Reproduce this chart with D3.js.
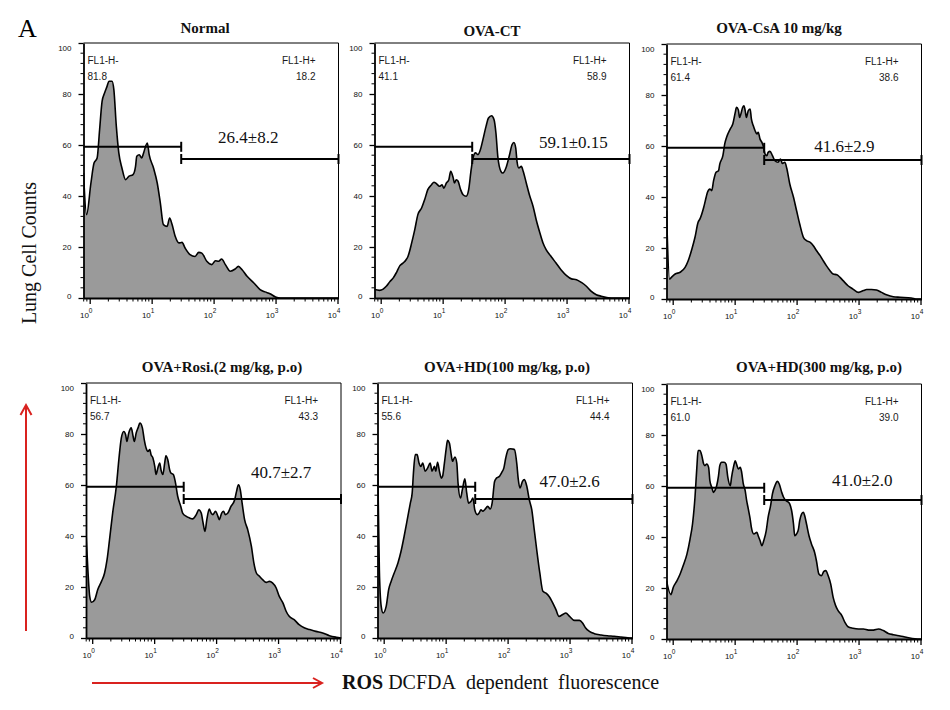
<!DOCTYPE html>
<html><head><meta charset="utf-8">
<script src="https://cdn.jsdelivr.net/npm/d3@7"></script>
<style>body{margin:0;background:#fff} svg{display:block}</style>
</head><body>
<svg id="chart" width="950" height="710"></svg>
<script>
// ---------------- DATA ----------------
const panelTitles = ["Normal", "OVA-CT", "OVA-CsA 10 mg/kg",
  "OVA+Rosi.(2 mg/kg, p.o)", "OVA+HD(100 mg/kg, p.o)", "OVA+HD(300 mg/kg, p.o)"];
const gateNegPct = ["81.8", "41.1", "61.4", "56.7", "55.6", "61.0"];
const gatePosPct = ["18.2", "58.9", "38.6", "43.3", "44.4", "39.0"];
const meanSdText = ["26.4±8.2", "59.1±0.15", "41.6±2.9", "40.7±2.7", "47.0±2.6", "41.0±2.0"];
const yTickValues = [0, 20, 40, 60, 80, 100];
const xTickExponents = [0, 1, 2, 3, 4];
const gateBoundary = 30;      // fluorescence channel separating FL1-H- / FL1-H+
const gateNegLevel = 59.3;    // count level where the "-" gate bar is drawn
const gatePosLevel = 54.5;    // count level where the "+" gate bar is drawn
// where the mean±SD text sits, in data units [log10 fluorescence, count]
const meanSdAt = [[2.56, 60.8], [3.11, 58.8], [2.77, 57.6], [3.05, 62.7], [3.0, 59.2], [3.06, 60.0]];

// histograms: [log10 DCFDA fluorescence, cell count]
const normalHist = [[-0.10,49],[-0.05,32.7],[0.02,45.1],[0.07,52.9],[0.12,54.9],[0.16,66],[0.20,77.1],[0.24,80.4],[0.28,83],[0.31,85],[0.36,85],[0.39,81.7],[0.43,67.3],[0.47,56.9],[0.52,51],[0.58,46.4],[0.63,47.7],[0.70,48.4],[0.74,51.6],[0.76,55.6],[0.80,56.2],[0.84,54.9],[0.87,56.9],[0.93,60.8],[0.96,56.2],[1.03,51],[1.09,45.1],[1.14,37.3],[1.19,28.8],[1.25,28.1],[1.29,31.4],[1.33,28.8],[1.38,24.2],[1.44,21.6],[1.49,21.8],[1.54,19.6],[1.62,17],[1.70,16.3],[1.76,17.9],[1.81,17.6],[1.89,14.4],[1.97,13.1],[2.03,14.6],[2.08,14.4],[2.13,15.3],[2.19,13.1],[2.27,10.5],[2.35,11.4],[2.40,12.4],[2.46,11.1],[2.54,8.5],[2.65,5.9],[2.75,3.3],[2.83,2.4],[2.91,1.7],[3.00,0.4],[3.08,0],[4.02,0]];
const ovaCtHist = [[-0.10,3.3],[-0.02,3.0],[0.04,3.5],[0.09,4.6],[0.15,6.5],[0.20,7.8],[0.25,9.8],[0.31,12.7],[0.36,13.7],[0.41,15.0],[0.44,16.3],[0.50,21.6],[0.55,26.8],[0.60,32.7],[0.66,35.3],[0.71,38.6],[0.76,42.5],[0.82,44.4],[0.86,45.4],[0.90,44.8],[0.95,43.8],[0.99,44.4],[1.02,43.1],[1.06,45.1],[1.10,46.4],[1.13,49.7],[1.17,47.1],[1.19,45.1],[1.22,46.4],[1.25,45.8],[1.29,42.5],[1.33,40.5],[1.38,39.9],[1.42,42.5],[1.46,50.3],[1.49,54.9],[1.53,56.9],[1.57,56.2],[1.61,58.2],[1.65,62.1],[1.70,67.3],[1.74,70.6],[1.79,71.5],[1.83,69.9],[1.86,64.7],[1.89,55.6],[1.94,49.7],[1.97,49.0],[2.03,51.6],[2.08,56.2],[2.12,60.1],[2.15,61.0],[2.18,58.8],[2.20,53.6],[2.23,51.0],[2.27,51.6],[2.30,49.7],[2.35,45.1],[2.40,40.5],[2.46,35.9],[2.51,30.7],[2.57,25.5],[2.62,21.6],[2.67,19.0],[2.75,16.3],[2.83,13.7],[2.91,11.1],[3.00,8.8],[3.08,7.5],[3.16,7.2],[3.24,6.1],[3.32,4.6],[3.40,2.6],[3.48,1.3],[3.56,0.7],[3.67,0.1],[3.77,0],[4.02,0]];
const ovaCsaHist = [[-0.10,34.6],[-0.05,7.8],[-0.02,8.5],[0.04,9.8],[0.12,10.5],[0.20,12.4],[0.25,15.0],[0.31,19.6],[0.36,24.2],[0.41,30.1],[0.44,31.4],[0.50,35.9],[0.54,39.9],[0.56,41.8],[0.60,43.1],[0.63,42.5],[0.66,46.4],[0.70,49.7],[0.74,50.3],[0.76,52.9],[0.81,56.2],[0.84,60.8],[0.87,63.4],[0.93,66.7],[0.97,68.6],[1.01,73.2],[1.03,75.2],[1.06,74.1],[1.08,71.2],[1.10,72.5],[1.13,75.2],[1.15,75.8],[1.17,73.9],[1.19,71.2],[1.22,73.9],[1.25,74.5],[1.27,70.6],[1.30,68.0],[1.33,66.0],[1.36,64.7],[1.38,65.4],[1.41,62.7],[1.44,61.4],[1.46,60.1],[1.49,56.9],[1.52,56.2],[1.54,57.5],[1.57,57.9],[1.61,56.2],[1.65,54.2],[1.70,53.6],[1.74,54.9],[1.77,53.2],[1.81,53.6],[1.84,51.4],[1.89,45.1],[1.95,39.9],[2.00,34.6],[2.05,29.4],[2.11,24.2],[2.16,22.9],[2.22,22.2],[2.27,20.9],[2.32,19.0],[2.38,17.0],[2.43,15.0],[2.48,13.1],[2.54,11.1],[2.59,9.8],[2.65,9.5],[2.70,8.5],[2.75,7.2],[2.83,5.2],[2.91,3.9],[3.00,2.6],[3.08,3.3],[3.13,3.7],[3.21,3.7],[3.29,3.5],[3.37,2.6],[3.45,1.7],[3.56,0.9],[3.67,0.7],[3.85,0.4],[3.95,0],[4.02,0]];
const rosiHist = [[-0.10,41.2],[-0.07,26.8],[-0.04,16.3],[-0.01,14.0],[0.04,15.0],[0.09,19.0],[0.15,22.2],[0.20,25.5],[0.24,30.7],[0.28,38.6],[0.33,49.0],[0.39,59.5],[0.43,69.9],[0.47,78.4],[0.51,81.0],[0.54,79.7],[0.56,77.1],[0.59,80.4],[0.63,82.4],[0.66,79.1],[0.68,77.1],[0.71,80.4],[0.74,82.4],[0.77,84.3],[0.81,82.4],[0.84,77.8],[0.87,74.5],[0.90,73.2],[0.93,73.9],[0.95,71.9],[0.98,70.6],[1.01,67.3],[1.03,64.1],[1.06,66.7],[1.09,68.6],[1.11,66.0],[1.14,64.1],[1.17,68.6],[1.19,71.5],[1.22,69.9],[1.25,66.0],[1.27,64.7],[1.31,64.1],[1.34,61.4],[1.38,55.6],[1.43,51.6],[1.46,49.0],[1.52,47.7],[1.57,47.1],[1.62,46.7],[1.68,48.4],[1.72,50.3],[1.76,49.0],[1.79,45.1],[1.82,41.8],[1.85,46.4],[1.89,50.6],[1.92,49.0],[1.95,48.4],[1.99,49.7],[2.03,47.7],[2.05,46.4],[2.09,49.0],[2.12,49.7],[2.15,48.4],[2.19,49.0],[2.24,51.6],[2.30,54.2],[2.33,57.5],[2.36,60.1],[2.39,58.2],[2.42,52.9],[2.46,46.4],[2.51,42.5],[2.57,35.9],[2.61,29.4],[2.65,25.5],[2.70,24.2],[2.75,22.9],[2.81,21.8],[2.86,22.2],[2.91,21.6],[2.97,19.6],[3.02,16.3],[3.08,13.7],[3.13,10.5],[3.18,8.5],[3.26,7.2],[3.34,5.2],[3.43,3.9],[3.51,3.3],[3.61,2.6],[3.72,2.0],[3.83,0.9],[3.94,0.3],[4.02,0]];
const hd100Hist = [[-0.10,72.5],[-0.07,26.8],[-0.04,12.4],[-0.01,9.8],[0.04,12.4],[0.08,19.0],[0.12,22.2],[0.17,25.5],[0.23,29.4],[0.28,34.0],[0.33,39.9],[0.39,47.7],[0.43,52.9],[0.46,56.9],[0.48,64.7],[0.51,71.9],[0.54,71.9],[0.57,68.6],[0.60,67.3],[0.63,68.6],[0.67,65.4],[0.71,66.7],[0.75,68.6],[0.78,65.4],[0.82,67.3],[0.84,65.4],[0.87,68.9],[0.90,65.4],[0.93,62.7],[0.95,63.4],[0.98,68.6],[1.01,74.5],[1.03,77.5],[1.06,76.5],[1.09,71.9],[1.11,69.3],[1.15,71.0],[1.18,68.6],[1.20,60.8],[1.24,54.9],[1.27,58.2],[1.31,62.4],[1.34,56.9],[1.37,52.9],[1.41,53.6],[1.44,54.9],[1.47,50.3],[1.51,48.4],[1.54,49.0],[1.57,50.3],[1.60,49.7],[1.63,50.3],[1.68,51.6],[1.72,50.6],[1.75,52.9],[1.79,61.4],[1.82,62.7],[1.87,63.4],[1.90,64.7],[1.94,66.7],[1.97,70.6],[2.01,73.9],[2.04,74.2],[2.08,74.1],[2.11,73.9],[2.15,68.0],[2.17,62.7],[2.20,58.8],[2.24,61.4],[2.27,62.1],[2.31,59.5],[2.35,54.2],[2.39,50.3],[2.43,42.5],[2.47,34.6],[2.52,25.5],[2.57,18.3],[2.62,17.6],[2.67,16.3],[2.73,13.7],[2.78,11.1],[2.83,8.5],[2.89,9.2],[2.94,9.8],[3.00,8.5],[3.08,6.9],[3.16,6.9],[3.21,5.9],[3.26,3.9],[3.32,2.6],[3.40,1.7],[3.51,1.2],[3.61,0.9],[3.72,0.7],[3.83,0.4],[3.94,0.1],[4.02,0]];
const hd300Hist = [[-0.10,22.9],[-0.03,17.4],[0.01,20.3],[0.07,22.9],[0.12,25.5],[0.17,28.8],[0.23,33.3],[0.28,39.2],[0.32,45.1],[0.36,55.6],[0.39,67.3],[0.41,73.9],[0.44,73.9],[0.47,71.9],[0.50,68.6],[0.52,68.0],[0.55,68.6],[0.58,67.3],[0.60,62.1],[0.63,59.5],[0.66,57.5],[0.68,58.2],[0.71,60.1],[0.74,64.1],[0.76,68.0],[0.79,69.3],[0.83,69.3],[0.86,68.6],[0.89,63.4],[0.93,60.1],[0.95,63.4],[0.98,67.3],[1.01,69.9],[1.03,68.6],[1.06,66.7],[1.09,67.3],[1.11,65.8],[1.14,60.8],[1.17,58.2],[1.19,54.9],[1.22,51.0],[1.25,47.1],[1.27,43.8],[1.31,41.2],[1.36,41.8],[1.38,40.5],[1.41,38.6],[1.44,36.6],[1.47,38.6],[1.51,42.5],[1.54,47.7],[1.58,52.3],[1.61,56.9],[1.65,60.1],[1.69,61.8],[1.72,60.8],[1.76,57.5],[1.79,55.6],[1.83,54.2],[1.87,53.6],[1.89,52.9],[1.92,50.3],[1.95,45.1],[1.97,40.5],[2.00,41.2],[2.03,43.1],[2.05,46.4],[2.08,49.0],[2.11,49.7],[2.13,48.4],[2.16,45.1],[2.20,40.5],[2.24,37.3],[2.29,34.0],[2.32,30.7],[2.36,25.5],[2.40,24.8],[2.44,26.5],[2.47,26.8],[2.51,24.8],[2.55,21.6],[2.59,16.3],[2.63,13.1],[2.67,11.1],[2.73,9.2],[2.78,6.5],[2.83,4.8],[2.91,4.2],[3.00,3.9],[3.08,3.9],[3.16,3.5],[3.24,3.5],[3.32,3.9],[3.40,3.3],[3.48,2.2],[3.56,1.7],[3.67,1.2],[3.77,0.7],[3.91,0.1],[4.02,0]];
const histograms = [normalHist, ovaCtHist, ovaCsaHist, rosiHist, hd100Hist, hd300Hist];

// ---------------- LAYOUT ----------------
const PW = 255, PH = 255;
const panelOrigins = [[83.5, 43], [374.5, 43], [666.5, 44], [86, 383], [377.5, 383], [666.5, 384]];
const titlePos = [[205, 33], [492, 36], [779, 33], [222, 372], [507, 372], [819, 372]];
const serif = "'Liberation Serif', 'Times New Roman', serif";
const sans = "'Liberation Sans', Arial, sans-serif";
const red = "#d9221f";

const svg = d3.select("#chart");
const x = d3.scaleLog().domain([Math.pow(10, -0.1), Math.pow(10, 4.016)]).range([0, PW]);
const y = d3.scaleLinear().domain([0, 100]).range([PH, 0]);

const area = d3.area().x(d => x(Math.pow(10, d[0]))).y0(y(0)).y1(d => y(d[1])).curve(d3.curveMonotoneX);
const line = d3.line().x(d => x(Math.pow(10, d[0]))).y(d => y(d[1])).curve(d3.curveMonotoneX);

const minorY = d3.range(0, 101, 4).filter(v => v % 20 !== 0);
const majorX = xTickExponents.map(e => Math.pow(10, e));
const minorX = [];
[-1, 0, 1, 2, 3].forEach(e => { for (let k = 2; k <= 9; k++) { const v = k * Math.pow(10, e); if (v >= x.domain()[0] && v <= x.domain()[1]) minorX.push(v); } });

svg.append("defs").selectAll("clipPath").data(panelOrigins).join("clipPath")
  .attr("id", (d, i) => "clip" + i)
  .append("rect").attr("x", 0).attr("y", 0).attr("width", PW).attr("height", PH);

histograms.forEach((hist, i) => {
  const [ox, oy] = panelOrigins[i];
  const g = svg.append("g").attr("transform", `translate(${ox},${oy})`);

  // histogram
  const hg = g.append("g").attr("clip-path", `url(#clip${i})`);
  hg.append("path").datum(hist).attr("d", area).attr("fill", "#9a9a9a");
  hg.append("path").datum(hist).attr("d", line).attr("fill", "none").attr("stroke", "#000").attr("stroke-width", 1.6).attr("stroke-linejoin", "round");

  // frame (top & right)
  g.append("line").attr("x1", 0).attr("x2", PW).attr("y1", 0).attr("y2", 0).attr("stroke", "#000").attr("stroke-width", 1);
  g.append("line").attr("x1", PW).attr("x2", PW).attr("y1", 0).attr("y2", PH).attr("stroke", "#000").attr("stroke-width", 1);

  // y axis
  const ya = g.append("g").call(d3.axisLeft(y).tickValues(yTickValues).tickSize(5).tickSizeOuter(0).tickPadding(7));
  ya.select(".domain").attr("stroke-width", 1.8);
  ya.selectAll(".tick line").attr("stroke-width", 1.3);
  ya.selectAll(".tick text").attr("font-family", sans).attr("font-size", 8).attr("fill", "#111")
    .attr("dy", d => d === 100 ? "0.95em" : d === 0 ? "0.05em" : "0.32em");
  g.append("g").selectAll("line").data(minorY).join("line")
    .attr("x1", -3).attr("x2", 0).attr("y1", d => y(d)).attr("y2", d => y(d)).attr("stroke", "#000").attr("stroke-width", 1);

  // x axis
  const xa = g.append("g").attr("transform", `translate(0,${PH})`)
    .call(d3.axisBottom(x).tickValues(majorX).tickSize(6).tickSizeOuter(0).tickFormat(""));
  xa.select(".domain").attr("stroke-width", 1.8);
  xa.selectAll(".tick line").attr("stroke-width", 1.3);
  xa.append("g").selectAll("line").data(minorX).join("line")
    .attr("x1", d => x(d)).attr("x2", d => x(d)).attr("y1", 0).attr("y2", 3.5).attr("stroke", "#000").attr("stroke-width", 1);
  const lbl = xa.append("g").selectAll("text").data(xTickExponents).join("text")
    .attr("x", e => x(Math.pow(10, e)) - 3.5).attr("y", 20)
    .attr("font-family", sans).attr("font-size", 8).attr("fill", "#111");
  lbl.append("tspan").text("10");
  lbl.append("tspan").attr("dy", -5).attr("font-size", 6.5).text(e => e);

  // gate population labels
  g.append("text").attr("x", 4).attr("y", 21).attr("font-family", sans).attr("font-size", 10).attr("fill", "#1a1a1a").text("FL1-H-");
  g.append("text").attr("x", 4).attr("y", 36.5).attr("font-family", sans).attr("font-size", 10).attr("fill", "#1a1a1a").text(gateNegPct[i]);
  g.append("text").attr("x", 232).attr("y", 21).attr("text-anchor", "end").attr("font-family", sans).attr("font-size", 10).attr("fill", "#1a1a1a").text("FL1-H+");
  g.append("text").attr("x", 232).attr("y", 36.5).attr("text-anchor", "end").attr("font-family", sans).attr("font-size", 10).attr("fill", "#1a1a1a").text(gatePosPct[i]);

  // gates
  const gb = x(gateBoundary), yn = y(gateNegLevel), yp = y(gatePosLevel);
  const gs = g.append("g").attr("stroke", "#000").attr("stroke-width", 2);
  gs.append("line").attr("x1", 0).attr("x2", gb).attr("y1", yn).attr("y2", yn);
  gs.append("line").attr("x1", gb).attr("x2", gb).attr("y1", yn - 5).attr("y2", yn + 5);
  gs.append("line").attr("x1", gb).attr("x2", PW).attr("y1", yp).attr("y2", yp);
  gs.append("line").attr("x1", gb).attr("x2", gb).attr("y1", yp - 5).attr("y2", yp + 5);
  gs.append("line").attr("x1", PW).attr("x2", PW).attr("y1", yp - 5).attr("y2", yp + 5);

  // mean ± SD
  g.append("text").attr("x", x(Math.pow(10, meanSdAt[i][0]))).attr("y", y(meanSdAt[i][1]))
    .attr("text-anchor", "middle").attr("font-family", serif).attr("font-size", 17).attr("fill", "#111").text(meanSdText[i]);

  // title
  svg.append("text").attr("x", titlePos[i][0]).attr("y", titlePos[i][1]).attr("text-anchor", "middle")
    .attr("font-family", serif).attr("font-weight", "bold").attr("font-size", 15).attr("fill", "#111").text(panelTitles[i]);
});

// panel letter
svg.append("text").attr("x", 18).attr("y", 37).attr("font-family", serif).attr("font-size", 26).text("A");

// y label
svg.append("text").attr("transform", "translate(35.5,253) rotate(-90)").attr("text-anchor", "middle")
  .attr("font-family", serif).attr("font-size", 20).attr("fill", "#111").text("Lung Cell Counts");

// red arrows
const arrows = svg.append("g").attr("stroke", red).attr("stroke-width", 2).attr("fill", "none");
arrows.append("line").attr("x1", 26).attr("x2", 26).attr("y1", 631).attr("y2", 406);
arrows.append("path").attr("d", "M20.5,415 L26,405 L31.5,415");
arrows.append("line").attr("x1", 92).attr("x2", 321).attr("y1", 683).attr("y2", 683);
arrows.append("path").attr("d", "M313,678 L322,683 L313,688");

// x label
const xl = svg.append("text").attr("x", 342).attr("y", 689).attr("font-family", serif).attr("font-size", 20)
  .attr("fill", "#111");
xl.append("tspan").attr("font-weight", "bold").text("ROS");
xl.append("tspan").text("\u00A0DCFDA\u00A0\u00A0dependent\u00A0\u00A0fluorescence");
</script>
</body></html>
